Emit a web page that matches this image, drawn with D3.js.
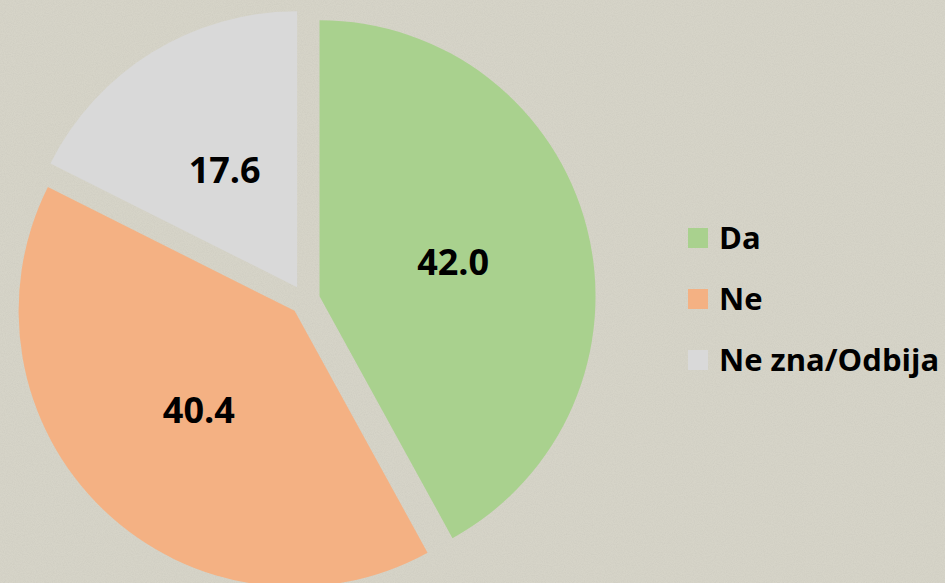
<!DOCTYPE html>
<html>
<head>
<meta charset="utf-8">
<script src="https://cdn.jsdelivr.net/npm/d3@7"></script>
<style>
  html, body { margin: 0; padding: 0; background: #d6d4c8; }
  svg { display: block; }
</style>
</head>
<body>
<svg id="chart" width="945" height="583"></svg>
<script>
const categories = ["Da", "Ne", "Ne zna/Odbija"];
const values = [42.0, 40.4, 17.6];
const valueLabels = ["42.0", "40.4", "17.6"];
const colors = ["#a9d18e", "#f4b183", "#d9d9d9"];

const W = 945, H = 583;
const cx = 305, cy = 300, R = 276, explode = 15;

const svg = d3.select("#chart");

// textured background
const defs = svg.append("defs");
const filt = defs.append("filter").attr("id", "tex").attr("x", 0).attr("y", 0).attr("width", "100%").attr("height", "100%");
filt.append("feTurbulence").attr("type", "fractalNoise").attr("baseFrequency", 0.9).attr("numOctaves", 2).attr("seed", 3).attr("result", "noise");
filt.append("feColorMatrix").attr("in", "noise").attr("type", "matrix")
  .attr("values", "0 0 0 0 0.45  0 0 0 0 0.44  0 0 0 0 0.40  0 0 0 0.9 -0.3");
svg.append("rect").attr("width", W).attr("height", H).attr("fill", "#d6d4c8");
svg.append("rect").attr("width", W).attr("height", H).attr("filter", "url(#tex)").attr("opacity", 0.35);

const pie = d3.pie().sort(null).value(d => d)(values);
const arc = d3.arc().innerRadius(0).outerRadius(R);

const g = svg.append("g").attr("transform", `translate(${cx},${cy})`);
const slices = g.selectAll("g.slice").data(pie).join("g")
  .attr("class", "slice")
  .attr("transform", d => {
    const a = (d.startAngle + d.endAngle) / 2;
    return `translate(${explode * Math.sin(a)},${-explode * Math.cos(a)})`;
  });

slices.append("path").attr("d", arc).attr("fill", (d, i) => colors[i]);

slices.append("text")
  .attr("transform", d => `translate(${arc.centroid(d)})`)
  .attr("text-anchor", "middle")
  .attr("dy", "0.36em")
  .attr("font-family", "'Open Sans', sans-serif")
  .attr("font-weight", "bold")
  .attr("font-size", 36)
  .attr("fill", "#000")
  .text((d, i) => valueLabels[i]);

// legend
const legend = svg.append("g").attr("transform", "translate(688,228)");
const items = legend.selectAll("g").data(categories).join("g")
  .attr("transform", (d, i) => `translate(0,${i * 61})`);
items.append("rect").attr("width", 20).attr("height", 20).attr("fill", (d, i) => colors[i]);
items.append("text")
  .attr("x", 31).attr("y", 21)
  .attr("font-family", "'Open Sans', sans-serif")
  .attr("font-weight", "bold")
  .attr("font-size", 31)
  .attr("fill", "#000")
  .text(d => d);
</script>
</body>
</html>
